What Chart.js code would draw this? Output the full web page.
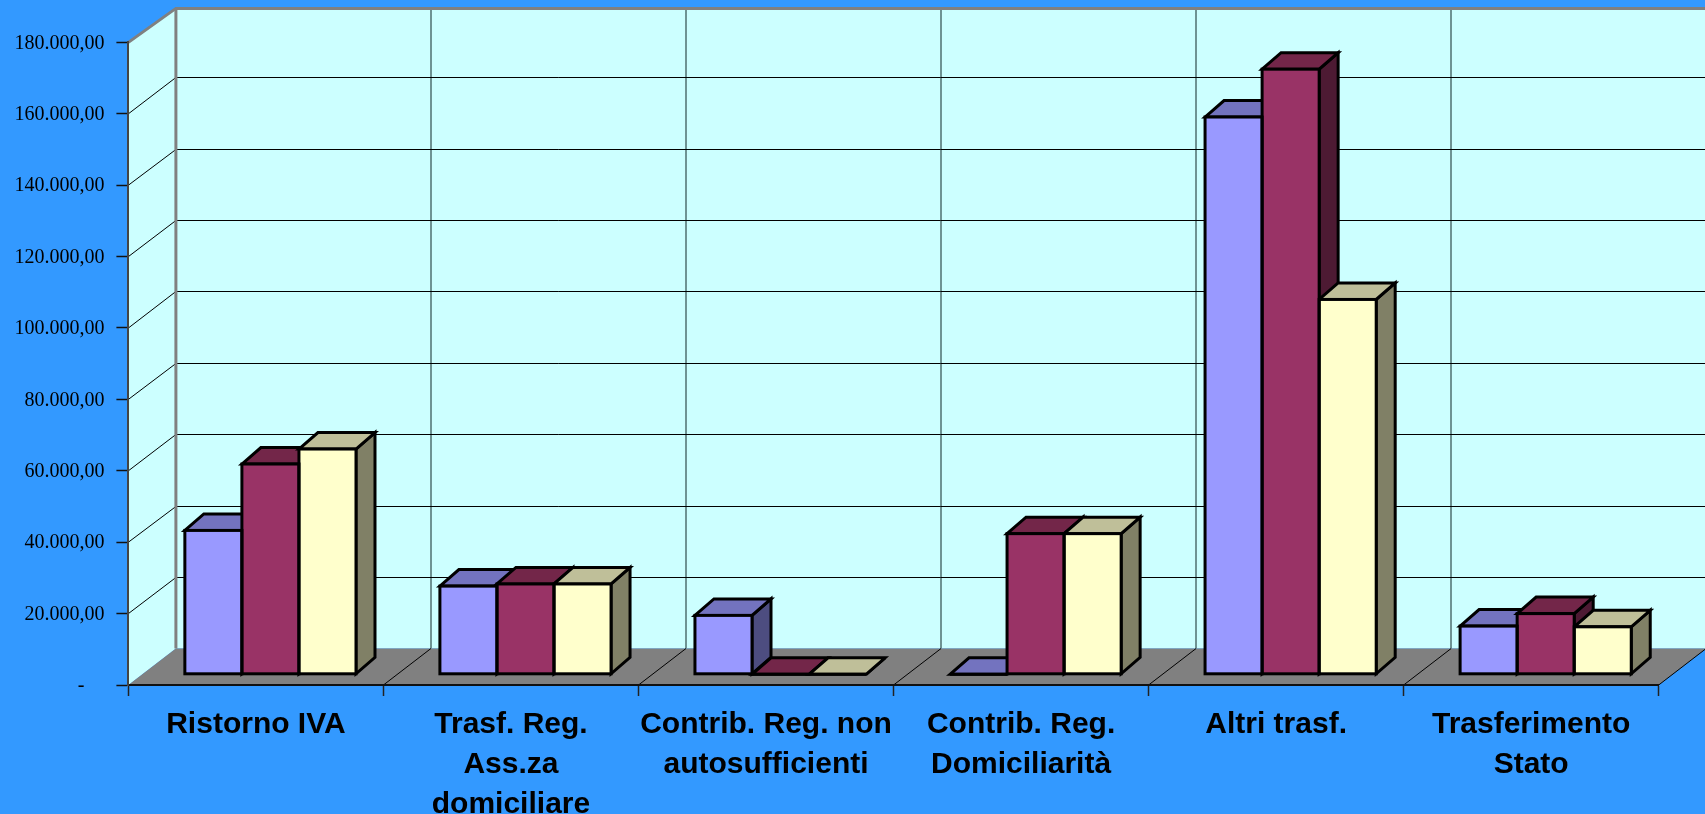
<!DOCTYPE html>
<html>
<head>
<meta charset="utf-8">
<title>Trasferimenti</title>
<script src="https://cdn.jsdelivr.net/npm/chart.js@4"></script>
<style>
    html, body { margin: 0; padding: 0; background: #3399ff; overflow: hidden; }
    canvas { display: block; }
</style>
</head>
<body>
<canvas id="chart" width="1705" height="814"></canvas>
<script>
const categories = [
    "Ristorno IVA",
    ["Trasf. Reg.", "Ass.za", "domiciliare"],
    ["Contrib. Reg. non", "autosufficienti"],
    ["Contrib. Reg.", "Domiciliarità"],
    "Altri trasf.",
    ["Trasferimento", "Stato"]
];
const serie1 = [40300, 24700, 16500, 0, 156100, 13500];
const serie2 = [58900, 25300, 0, 39400, 169500, 17000];
const serie3 = [63100, 25300, 0, 39400, 105000, 13300];
const yTickLabels = ["-\u00a0\u00a0\u00a0\u00a0", "20.000,00", "40.000,00", "60.000,00", "80.000,00",
    "100.000,00", "120.000,00", "140.000,00", "160.000,00", "180.000,00"];

// how far the back wall sits from the axis plane
const wallDx = 47.5;
const wallDy = 36.5;
// bars stand a bit inside the floor and have their own depth
const barDx = 14.5;
const barDy = 10.7;
const depthDx = 19;
const depthDy = 16.5;
const barLine = 3;

const colors = [
    { front: "#9999ff", top: "#7373bf", side: "#4d4d80" },
    { front: "#993366", top: "#732649", side: "#4d1a33" },
    { front: "#ffffcc", top: "#bfbf99", side: "#808066" }
];

function poly(ctx, pts, fill, stroke, lw) {
    ctx.beginPath();
    ctx.moveTo(pts[0][0], pts[0][1]);
    for (let i = 1; i < pts.length; i++) {
        ctx.lineTo(pts[i][0], pts[i][1]);
    }
    if (fill) {
        ctx.closePath();
        ctx.fillStyle = fill;
        ctx.fill();
    }
    if (stroke) {
        ctx.strokeStyle = stroke;
        ctx.lineWidth = lw;
        ctx.stroke();
    }
}

const walls3d = {
    id: "walls3d",
    beforeDraw(chart) {
        const ctx = chart.ctx;
        const W = chart.width;
        const a = chart.chartArea;
        const y = chart.scales.y;
        const backX = a.left + wallDx;
        const backBottom = a.bottom - wallDy;
        const backTop = a.top - 34;
        const step = (a.right - a.left) / categories.length;

        ctx.save();
        ctx.fillStyle = "#3399ff";
        ctx.fillRect(0, 0, W, chart.height);

        // left wall and back wall
        poly(ctx, [[a.left, a.top], [backX, backTop], [backX, backBottom], [a.left, a.bottom]], "#ccffff");
        poly(ctx, [[backX, backTop], [W, backTop], [W, backBottom], [backX, backBottom]], "#ccffff");

        // vertical lines on the back wall
        for (let i = 1; i < categories.length; i++) {
            const vx = Math.round(backX + i * step);
            poly(ctx, [[vx, backTop], [vx, backBottom]], null, "#4f6f6f", 1.5);
        }

        // horizontal lines, back wall + left wall
        y.ticks.forEach((t) => {
            if (t.value === 0 || t.value === y.max) return;
            const py = y.getPixelForValue(t.value);
            const back = Math.round(py - wallDy) + 0.5;
            poly(ctx, [[a.left, py], [backX, back], [W, back]], null, "#000", 1);
        });

        // floor
        poly(ctx, [[a.left, a.bottom], [a.right, a.bottom], [a.right + wallDx, backBottom], [backX, backBottom]], "#808080");
        for (let i = 1; i <= categories.length; i++) {
            const fx = a.left + i * step;
            poly(ctx, [[fx, a.bottom], [fx + wallDx, backBottom]], null, "#000", 1);
        }

        // wall edges
        poly(ctx, [[a.left, a.top], [backX, backTop], [W, backTop]], null, "#808080", 3);
        poly(ctx, [[backX, backTop], [backX, backBottom]], null, "#808080", 3);
        ctx.restore();
    },
    beforeDatasetsDraw(chart) {
        const ctx = chart.ctx;
        ctx.save();
        ctx.translate(barDx, -barDy);
        // side + top faces go left to right, fronts are drawn over them
        for (let c = 0; c < categories.length; c++) {
            for (let d = 0; d < chart.data.datasets.length; d++) {
                const bar = chart.getDatasetMeta(d).data[c];
                const l = bar.x - bar.width / 2;
                const r = bar.x + bar.width / 2;
                poly(ctx, [[r, bar.y], [r + depthDx, bar.y - depthDy], [r + depthDx, bar.base - depthDy], [r, bar.base]],
                    colors[d].side, "#000", barLine);
                poly(ctx, [[l, bar.y], [l + depthDx, bar.y - depthDy], [r + depthDx, bar.y - depthDy], [r, bar.y]],
                    colors[d].top, "#000", barLine);
            }
        }
    },
    afterDatasetsDraw(chart) {
        const ctx = chart.ctx;
        chart.data.datasets.forEach((ds, d) => {
            chart.getDatasetMeta(d).data.forEach((bar) => {
                ctx.strokeStyle = "#000";
                ctx.lineWidth = barLine;
                ctx.strokeRect(bar.x - bar.width / 2, bar.y, bar.width, bar.base - bar.y);
            });
        });
        ctx.restore();
    }
};

new Chart(document.getElementById("chart"), {
    type: "bar",
    data: {
        labels: categories,
        datasets: [
            { label: "Serie 1", data: serie1, backgroundColor: colors[0].front },
            { label: "Serie 2", data: serie2, backgroundColor: colors[1].front },
            { label: "Serie 3", data: serie3, backgroundColor: colors[2].front }
        ]
    },
    options: {
        responsive: false,
        animation: false,
        clip: false,
        categoryPercentage: 0.671,
        barPercentage: 1,
        borderWidth: 0,
        layout: { padding: { top: 42.4, right: 46.3, left: 0, bottom: 0 } },
        plugins: { legend: { display: false }, title: { display: false }, tooltip: { enabled: false } },
        scales: {
            x: {
                afterFit(scale) { scale.height = 129; },
                grid: { offset: true, drawOnChartArea: false, drawTicks: true, tickLength: 11, tickColor: "#222", tickWidth: 1.5 },
                border: { color: "#111", width: 2 },
                ticks: {
                    color: "#000",
                    padding: 9,
                    maxRotation: 0,
                    autoSkip: false,
                    font: { family: "'Liberation Sans'", size: 30, weight: "bold", lineHeight: 40 / 30 }
                }
            },
            y: {
                min: 0,
                max: 180000,
                afterFit(scale) { scale.width = 128.4; },
                grid: { drawOnChartArea: false, drawTicks: true, tickLength: 12, tickColor: "#111", tickWidth: 1.5 },
                border: { color: "#444", width: 2 },
                ticks: {
                    stepSize: 20000,
                    color: "#000",
                    padding: 12,
                    labelOffset: 1,
                    font: { family: "'Liberation Serif'", size: 20 },
                    callback: (value, index) => yTickLabels[index]
                }
            }
        }
    },
    plugins: [walls3d]
});
</script>
</body>
</html>
